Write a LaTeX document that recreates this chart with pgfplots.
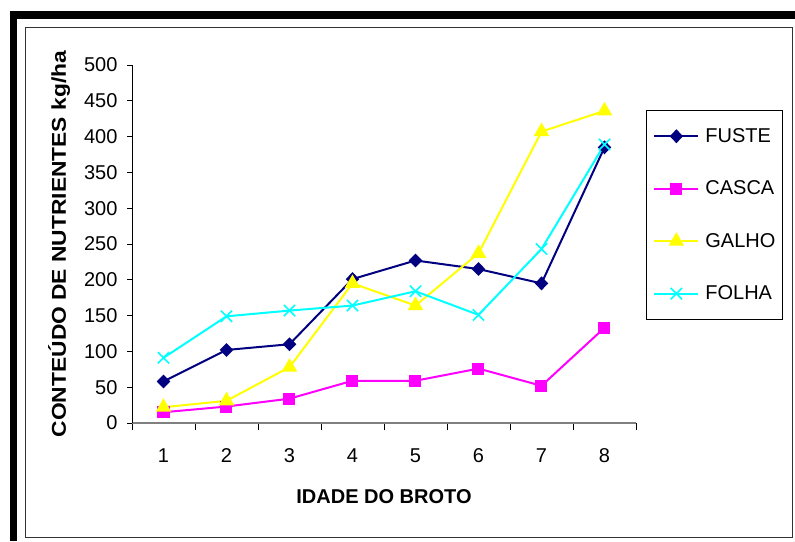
\documentclass[border=0pt]{standalone}
\usepackage{fontspec}
\setmainfont{Liberation Sans}
\usepackage{pgfplots}
\pgfplotsset{compat=1.18}
\definecolor{cfuste}{RGB}{0,0,128}
\definecolor{ccasca}{RGB}{255,0,255}
\definecolor{cgalho}{RGB}{255,255,0}
\definecolor{cfolha}{RGB}{0,255,255}
\definecolor{axgray}{RGB}{128,128,128}
\begin{document}
\begin{tikzpicture}[font=\fontsize{20}{24}\selectfont]
\useasboundingbox (0pt,0pt) rectangle (795pt,541pt);
\fill[white] (0pt,0pt) rectangle (795pt,541pt);
\fill[black] (10pt,522pt) rectangle (795pt,530pt);
\fill[black] (10pt,0pt) rectangle (17pt,530pt);
\draw[line width=1pt, color=black!80] (25.5pt,4pt) rectangle (792.5pt,513.5pt);
\begin{axis}[
  at={(132pt,118pt)}, anchor=south west,
  width=504pt, height=358pt, scale only axis,
  xmin=0.5, xmax=8.5, ymin=0, ymax=500,
  xtick={1,...,8},
  minor xtick={0.5,1.5,...,8.5},
  ytick={0,50,...,500},
  major x tick style={draw=none},
  minor x tick style={black, line width=0.8pt},
  y tick style={black, line width=0.8pt},
  tick align=outside,
  major tick length=5pt,
  minor tick length=7pt,
  axis x line*=bottom, axis y line*=left,
  axis line style={-},
  x axis line style={draw=axgray, line width=1.2pt},
  y axis line style={draw=black, line width=0.8pt},
  /pgf/number format/assume math mode=true,
  tick label style={font=\fontsize{20}{24}\selectfont},
  yticklabel style={xshift=-6pt},
  xticklabel style={yshift=-17pt},
  xlabel={\textbf{IDADE DO BROTO}},
  ylabel={\scalebox{1.14}[1]{\textbf{CONTEÚDO DE NUTRIENTES kg/ha}}},
  xlabel style={at={(axis description cs:0.5,-0.2067)}, anchor=center, font=\fontsize{20}{24}\selectfont},
  ylabel style={at={(axis description cs:-0.1448,0.5)}, anchor=center, font=\fontsize{20}{24}\selectfont},
  clip=false,
  legend cell align=left,
  legend style={at={(axis description cs:1.0198,0.874)}, anchor=north west,
    draw=black, line width=0.8pt, inner xsep=7pt, inner ysep=18pt,
    row sep=37pt, font=\fontsize{20}{24}\selectfont,
    nodes={inner sep=0pt}},
  legend image code/.code={
    \draw[#1, mark repeat=2, mark phase=2] plot coordinates {(0pt,0pt) (22pt,0pt) (44pt,0pt)};
    \node[inner sep=0pt] at (49pt,0pt) {};
  },
]
\addplot[cfuste, line width=2pt, mark=diamond*, mark size=5.5pt, mark options={solid, fill=cfuste, xscale=1.3}]
  coordinates {(1,58) (2,102) (3,110) (4,201) (5,227) (6,215) (7,195) (8,385)};
\addlegendentry{FUSTE}
\addplot[ccasca, line width=2pt, mark=square*, mark size=5pt, mark options={solid, fill=ccasca}]
  coordinates {(1,15) (2,23) (3,34) (4,59) (5,59) (6,76) (7,52) (8,133)};
\addlegendentry{CASCA}
\addplot[cgalho, line width=2pt, mark=triangle*, mark size=7pt, mark options={solid, fill=cgalho}]
  coordinates {(1,22) (2,31) (3,78) (4,195) (5,164) (6,237) (7,407) (8,436)};
\addlegendentry{GALHO}
\addplot[cfolha, line width=2pt, mark=x, mark size=8pt, mark options={solid, line width=1.6pt}]
  coordinates {(1,91) (2,149) (3,157) (4,164) (5,184) (6,151) (7,243) (8,389)};
\addlegendentry{FOLHA}
\end{axis}
\end{tikzpicture}
\end{document}
